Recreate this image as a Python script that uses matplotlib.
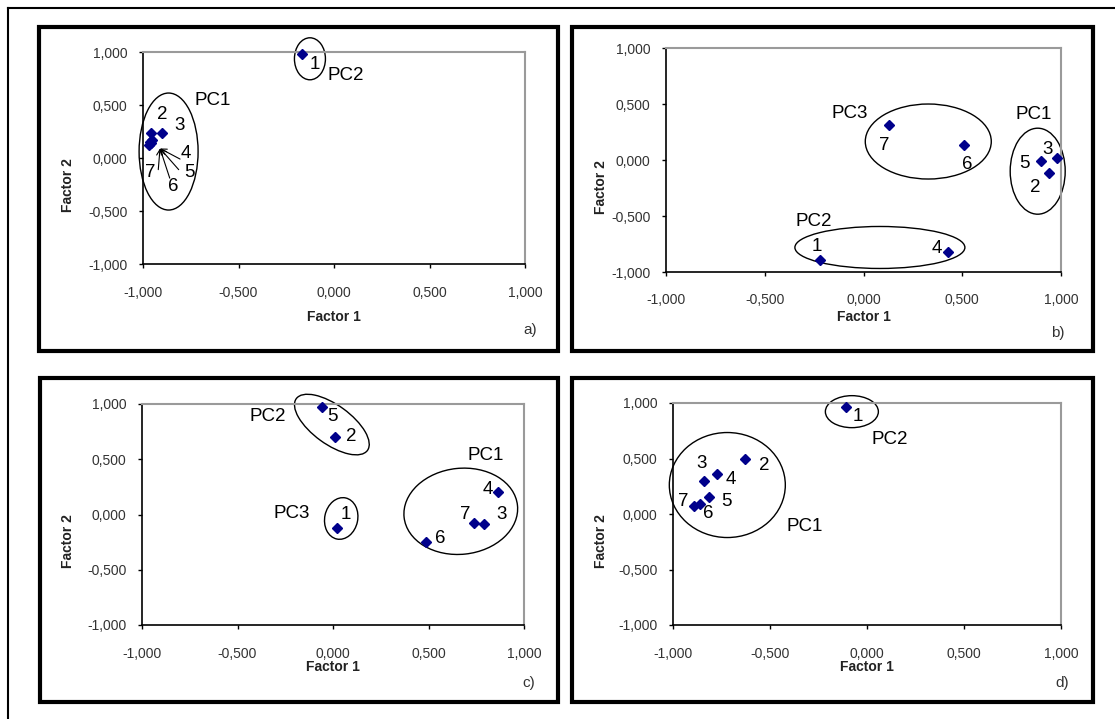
import matplotlib
matplotlib.use("Agg")
import matplotlib.pyplot as plt
from matplotlib import transforms
from matplotlib.patches import Ellipse, Rectangle
from matplotlib.lines import Line2D

# --- data: factor loadings of the 7 variables in each of the four cases ---
var_ids = ["1", "2", "3", "4", "5", "6", "7"]

a_factor1 = [-0.17, -0.96, -0.90, -0.955, -0.965, -0.97, -0.96]
a_factor2 = [0.98, 0.24, 0.24, 0.17, 0.15, 0.12, 0.14]

b_factor1 = [-0.22, 0.94, 0.98, 0.43, 0.90, 0.51, 0.13]
b_factor2 = [-0.89, -0.12, 0.02, -0.82, -0.01, 0.13, 0.31]

c_factor1 = [0.02, 0.01, 0.79, 0.865, -0.055, 0.485, 0.74]
c_factor2 = [-0.12, 0.70, -0.09, 0.20, 0.975, -0.245, -0.075]

d_factor1 = [-0.11, -0.63, -0.84, -0.775, -0.815, -0.86, -0.89]
d_factor2 = [0.96, 0.50, 0.30, 0.36, 0.155, 0.09, 0.075]

ticks = [-1.0, -0.5, 0.0, 0.5, 1.0]

# --- annotations (label spots, group rings) ---
a_num_pos = {"1": (-0.10, 0.88), "2": (-0.90, 0.41), "3": (-0.81, 0.31), "4": (-0.776, 0.047),
             "5": (-0.758, -0.14), "6": (-0.84, -0.27), "7": (-0.963, -0.14)}
b_num_pos = {"1": (-0.236, -0.768), "2": (0.87, -0.247), "3": (0.934, 0.095), "4": (0.369, -0.788),
             "5": (0.816, -0.03), "6": (0.527, -0.036), "7": (0.105, 0.128)}
c_num_pos = {"1": (0.066, 0.0), "2": (0.098, 0.704), "3": (0.884, 0.0), "4": (0.811, 0.222),
             "5": (-0.005, 0.885), "6": (0.56, -0.215), "7": (0.693, -0.002)}
d_num_pos = {"1": (-0.047, 0.877), "2": (-0.531, 0.441), "3": (-0.854, 0.457), "4": (-0.703, 0.315),
             "5": (-0.725, 0.111), "6": (-0.817, 0.006), "7": (-0.945, 0.111)}

# group name, text position, ring centre, ring width/height in px, ring angle
a_groups = [("PC1", (-0.636, 0.547), (-0.866, 0.061), 59, 117, 0),
            ("PC2", (0.063, 0.78), (-0.126, 0.936), 31, 42, 0)]
b_groups = [("PC3", (-0.07, 0.417), (0.328, 0.165), 126, 75, 0),
            ("PC1", (0.861, 0.41), (0.882, -0.10), 55, 86, 0),
            ("PC2", (-0.251, -0.545), (0.083, -0.781), 170, 42, 0)]
c_groups = [("PC2", (-0.341, 0.891), (-0.006, 0.814), 88, 39, -36),
            ("PC3", (-0.215, 0.005), (0.043, -0.036), 33, 42, -12),
            ("PC1", (0.80, 0.538), (0.669, 0.029), 114, 86, 6)]
d_groups = [("PC1", (-0.323, -0.114), (-0.72, 0.261), 116, 105, 0),
            ("PC2", (0.119, 0.667), (-0.078, 0.922), 53, 32, 0)]

W, H = 1115, 719
plt.rcParams["font.family"] = ["Liberation Sans", "DejaVu Sans"]
fig = plt.figure(figsize=(W / 100, H / 100), dpi=100)
fig.patch.set_facecolor("white")


def fig_box(x0, y0, x1, y1):
    return [x0 / W, 1 - y1 / H, (x1 - x0) / W, (y1 - y0) / H]


def ring(ax, centre, w, h, angle):
    tr = fig.dpi_scale_trans + transforms.ScaledTranslation(centre[0], centre[1], ax.transData)
    ax.add_patch(Ellipse((0, 0), w / 100, h / 100, angle=angle, transform=tr,
                         fill=False, ec="black", lw=1.0, clip_on=False))


panels = [
    # plot area px, frame px, x-label offset, y-label offset, x tick pad, letter, letter px
    ((143, 52, 525, 264), (39, 27, 558, 351), 53, 75, 13, "a)", (530, 330),
     a_factor1, a_factor2, a_num_pos, a_groups),
    ((666, 48, 1061, 272), (572, 27, 1093, 351), 45, 65, 12, "b)", (1058, 333),
     b_factor1, b_factor2, b_num_pos, b_groups),
    ((142, 404, 524, 625), (40, 378, 558, 702), 42, 74, 13, "c)", (529, 683),
     c_factor1, c_factor2, c_num_pos, c_groups),
    ((673, 403, 1061, 625), (572, 378, 1093, 702), 42, 72, 13, "d)", (1062, 683),
     d_factor1, d_factor2, d_num_pos, d_groups),
]

for area, frame, xoff, yoff, xpad, letter, lpos, f1, f2, num_pos, groups in panels:
    fig.add_artist(Rectangle((frame[0] / W, 1 - frame[3] / H), (frame[2] - frame[0]) / W,
                             (frame[3] - frame[1]) / H, transform=fig.transFigure,
                             fill=False, ec="black", lw=3))
    ax = fig.add_axes(fig_box(*area))
    wpx, hpx = area[2] - area[0], area[3] - area[1]

    ax.set_xlim(-1, 1)
    ax.set_ylim(-1, 1)
    ax.set_xticks(ticks)
    ax.set_yticks(ticks)
    labels = [f"{v:.3f}".replace(".", ",") for v in ticks]
    ax.set_xticklabels(labels)
    ax.set_yticklabels(labels)
    ax.tick_params(direction="out", length=3, width=1, colors="black",
                   labelcolor="#333333", labelsize=10)
    ax.tick_params(axis="x", pad=xpad)
    ax.tick_params(axis="y", pad=8)
    for side in ["top", "right"]:
        ax.spines[side].set_color("#9a9a9a")
        ax.spines[side].set_linewidth(1.5)
    for side in ["left", "bottom"]:
        ax.spines[side].set_color("black")
        ax.spines[side].set_linewidth(1.2)

    ax.set_xlabel("Factor 1", fontsize=10, fontweight="bold", color="#222222")
    ax.xaxis.label.set_va("center")
    ax.xaxis.set_label_coords(0.5, -xoff / hpx)
    ax.set_ylabel("Factor 2", fontsize=10, fontweight="bold", color="#222222")
    ax.yaxis.label.set_va("center")
    ax.yaxis.set_label_coords(-yoff / wpx, 0.5 - 27 / hpx)

    ax.plot(f1, f2, "D", color="#00008b", ms=5, clip_on=False, zorder=3)
    for vid in var_ids:
        tx, ty = num_pos[vid]
        ax.text(tx, ty, vid, fontsize=13.5, ha="center", va="center", color="black")
    for name, tpos, centre, w, h, ang in groups:
        ax.text(tpos[0], tpos[1], name, fontsize=13.5, ha="center", va="center", color="black")
        ring(ax, centre, w, h, ang)

    fig.text(lpos[0] / W, 1 - lpos[1] / H, letter, fontsize=11, ha="center", va="center",
             color="#333333")

# small arrows pointing into the crowded group in panel a
ax_a = fig.axes[0]
apex = (-0.911, 0.09)
for tail in [(-0.806, -0.01), (-0.813, -0.11), (-0.86, -0.19), (-0.92, -0.11)]:
    ax_a.annotate("", xy=apex, xytext=tail,
                  arrowprops=dict(arrowstyle="->", lw=0.8, color="black", shrinkA=0, shrinkB=0))

# outer border
fig.add_artist(Line2D([8 / W, 1], [1 - 8 / H, 1 - 8 / H], transform=fig.transFigure, lw=1.5, color="black"))
fig.add_artist(Line2D([8 / W, 8 / W], [1 - 8 / H, 0], transform=fig.transFigure, lw=1.5, color="black"))

fig.savefig("out.png", dpi=100, facecolor="white")
